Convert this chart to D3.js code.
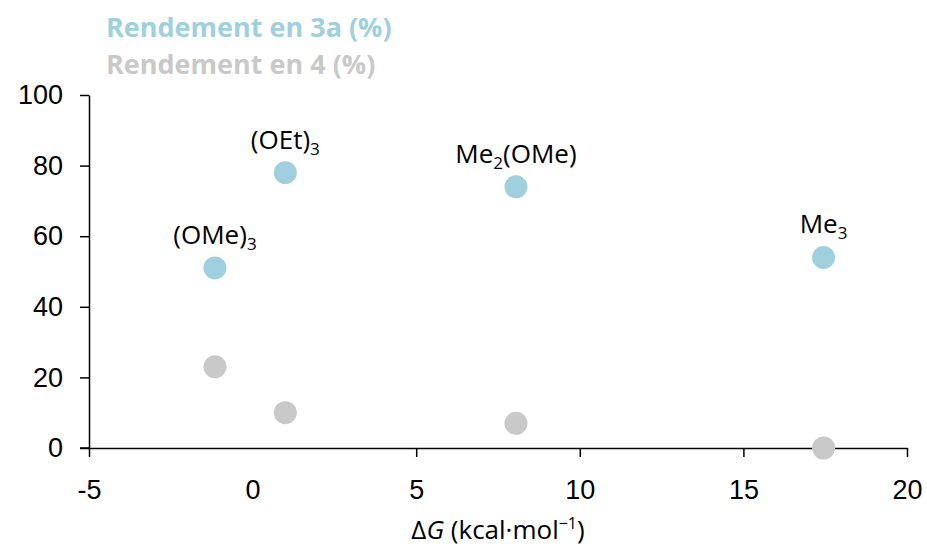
<!DOCTYPE html>
<html>
<head>
<meta charset="utf-8">
<script src="https://cdn.jsdelivr.net/npm/d3@7"></script>
<style>
  body { margin: 0; background: #fff; }
  svg { font-family: "Open Sans", Lato, sans-serif; }
</style>
</head>
<body>
<div id="chart"></div>
<script>
// data
const compounds = ['(OMe)3', '(OEt)3', 'Me2(OMe)', 'Me3'];
const deltaG = [-1.15, 1.0, 8.05, 17.45];
const yield3a = [51, 78, 74, 54];
const yield4 = [23, 10, 7, 0];
const xTicks = [-5, 0, 5, 10, 15, 20];
const yTicks = [0, 20, 40, 60, 80, 100];
// label pieces: [main, sub, tail]
const labelParts = [['(OMe)', '3', ''], ['(OEt)', '3', ''], ['Me', '2', '(OMe)'], ['Me', '3', '']];

const width = 927, height = 549;
const margin = {left: 89, right: 20, top: 95, bottom: 101};
const blue = '#a0d0dd', grey = '#c9c9c9';

const svg = d3.select('#chart').append('svg')
  .attr('width', width).attr('height', height);

const x = d3.scaleLinear().domain([-5, 20]).range([margin.left, width - margin.right]);
const y = d3.scaleLinear().domain([0, 100]).range([height - margin.bottom, margin.top]);

// axes
let xAxis = svg.append('g')
  .attr('transform', 'translate(0,' + y(0) + ')')
  .call(d3.axisBottom(x).tickValues(xTicks).tickSize(9).tickSizeOuter(0).tickFormat(d => String(d)));
xAxis.select('.domain').attr('stroke', '#000').attr('stroke-width', 1.5);
xAxis.selectAll('.tick line').attr('stroke-width', 1.5);
xAxis.selectAll('.tick text').attr('font-size', 27).attr('dy', '0.71em').attr('y', 32).attr('fill', '#000');
xAxis.selectAll('.tick').filter(d => d === 0).select('line').remove();

let yAxis = svg.append('g')
  .attr('transform', 'translate(' + x(-5) + ',0)')
  .call(d3.axisLeft(y).tickValues(yTicks).tickSize(9).tickSizeOuter(0));
yAxis.select('.domain').attr('stroke', '#000').attr('stroke-width', 1.5);
yAxis.selectAll('.tick line').attr('stroke-width', 1.5);
yAxis.selectAll('.tick text').attr('font-size', 27).attr('x', -26).attr('fill', '#000');

// x line extends a bit left of y axis
svg.append('line')
  .attr('x1', x(-5) - 9).attr('x2', x(-5))
  .attr('y1', y(0)).attr('y2', y(0))
  .attr('stroke', '#000').attr('stroke-width', 1.5);

// points
svg.append('g').selectAll('circle.g4')
  .data(deltaG.map((d, i) => [d, yield4[i]]))
  .join('circle')
  .attr('cx', d => x(d[0])).attr('cy', d => y(d[1]))
  .attr('r', 11.5).attr('fill', grey);

svg.append('g').selectAll('circle.g3')
  .data(deltaG.map((d, i) => [d, yield3a[i]]))
  .join('circle')
  .attr('cx', d => x(d[0])).attr('cy', d => y(d[1]))
  .attr('r', 11.5).attr('fill', blue);

// point labels
labelParts.forEach((p, i) => {
  let t = svg.append('text')
    .attr('x', x(deltaG[i])).attr('y', y(yield3a[i]) - 24)
    .attr('text-anchor', 'middle')
    .attr('font-size', 26).attr('fill', '#000');
  t.append('tspan').text(p[0]);
  t.append('tspan').text(p[1]).attr('font-size', 17).attr('dy', 6);
  if (p[2]) t.append('tspan').text(p[2]).attr('dy', -6);
});

// legend
svg.append('text').attr('x', 106).attr('y', 37)
  .attr('font-size', 27).attr('font-weight', 'bold').attr('fill', blue)
  .text('Rendement en 3a (%)');
svg.append('text').attr('x', 106).attr('y', 74)
  .attr('font-size', 27).attr('font-weight', 'bold').attr('fill', grey)
  .text('Rendement en 4 (%)');

// x title
let xt = svg.append('text')
  .attr('x', (x(-5) + x(20)) / 2).attr('y', 539)
  .attr('text-anchor', 'middle').attr('font-size', 26).attr('fill', '#000');
xt.append('tspan').text('Δ');
xt.append('tspan').text('G').attr('font-style', 'italic');
xt.append('tspan').text(' (kcal·mol');
xt.append('tspan').text('−1').attr('font-size', 16).attr('dy', -10);
xt.append('tspan').text(')').attr('dy', 10);
</script>
</body>
</html>
